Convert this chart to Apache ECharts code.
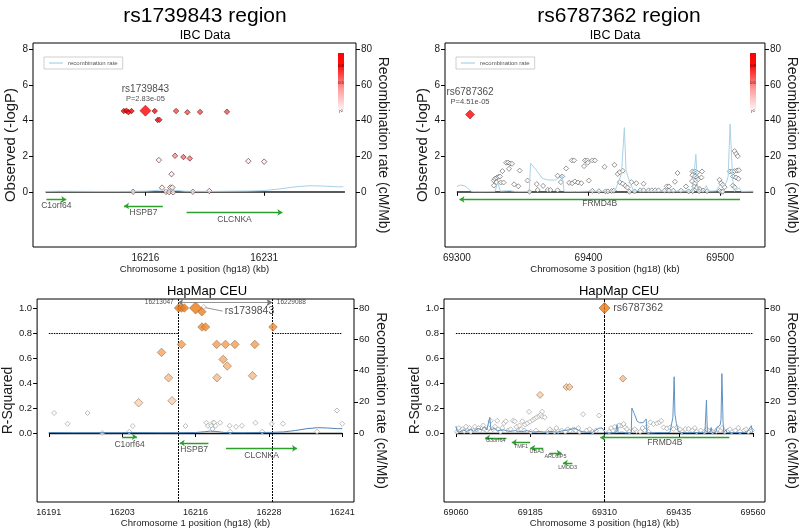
<!DOCTYPE html>
<html><head><meta charset="utf-8">
<script src="https://cdn.jsdelivr.net/npm/echarts@6/dist/echarts.min.js"></script>
<style>html,body{margin:0;padding:0;background:#fff}#c{width:800px;height:531px}</style>
</head><body><div id="c"></div>
<script>
const FONT = '"Liberation Sans", Arial, Helvetica, sans-serif';

// ---------------- DATA ----------------
const panelTitles = ['rs1739843 region', 'rs6787362 region'];
const subTitles = ['IBC Data', 'HapMap CEU'];
const xNames = ['Chromosome 1 position (hg18) (kb)', 'Chromosome 3 position (hg18) (kb)'];

const chr1IbcRange = [16203.4, 16241.2];
const chr3IbcRange = [69300, 69525];
const chr1HapRange = [16191, 16241];
const chr3HapRange = [69060, 69560];

const chr1IbcTicks = [16216, 16231];
const chr3IbcTicks = [69300, 69400, 69500];
const chr1HapTicks = [16191, 16203.5, 16216, 16228.5, 16241];
const chr3HapTicks = [69060, 69185, 69310, 69435, 69560];
const logPTicks = [0, 2, 4, 6, 8];
const r2Ticks = [0, 0.2, 0.4, 0.6, 0.8, 1.0];
const recTicks = [0, 20, 40, 60, 80];
const r2Threshold = 0.8;

const chr1Lead = { name: 'rs1739843', pos: 16216.0, logP: 4.55, p: '2.83e-05' };
const chr3Lead = { name: 'rs6787362', pos: 69310.0, logP: 4.34, p: '4.51e-05' };
const chr1LdBoundsBp = [16213047, 16229088];

// IBC chr1: [kb, -logP, r2 with lead]
const chr1IbcSnps = [
  [16213.27,4.53,1.0],[16213.6,4.55,1.0],[16213.86,4.47,0.97],[16214.24,4.53,1.0],
  [16217.18,4.53,0.97],[16217.55,4.03,0.85],[16217.76,4.04,0.85],
  [16219.87,4.53,0.71],[16221.3,4.46,0.71],[16222.9,4.48,0.71],[16226.3,4.49,0.71],
  [16219.74,2.02,0.44],[16220.8,1.95,0.59],[16221.6,1.87,0.54],
  [16217.7,1.78,0.06],[16219.3,0.99,0.08],[16229.0,1.72,0.07],[16231.0,1.69,0.07],
  [16218.1,0.23,0.05],[16219.15,0.24,0.06],[16219.4,0.24,0.03],
  [16214.45,0.0,0.06],[16218.6,0.0,0.03],[16219.0,-0.02,0.08],[16219.5,-0.03,0.06],[16222.0,0.0,0.05],[16224.07,0.04,0.06]
];

// IBC chr3: [kb, -logP]
const chr3IbcSnps = [
  [69328.1,0.63],[69329,0.73],[69330.3,0.79],[69331.6,0.84],[69332.8,0.86],[69328.1,0.35],[69330,0.54],[69333.3,0.52],
  [69335.5,0.52],[69334.6,1.16],[69337.4,1.63],[69338.9,1.64],[69340.4,1.59],[69341.9,1.57],[69339.6,1.29],[69347.7,1.19],
  [69346.7,0.31],[69353.7,0.63],[69355.2,0.0],[69360.7,0.43],[69361.4,0.1],[69369,0.1],[69371,0.1],[69376.5,0.08],
  [69376.5,0.9],[69380,0.86],[69379,0.54],[69383,1.31],[69385.3,0.5],[69387.6,0.48],[69389.6,0.58],[69387.3,1.76],
  [69389.1,1.76],[69397.4,1.76],[69399.1,1.76],[69402.9,1.76],[69404.9,1.76],[69396.6,1.44],[69399.4,1.63],[69400.2,0.63],
  [69402.9,0.05],[69407.9,0.03],[69412.9,0.02],[69414.7,0.02],[69417.5,0.04],[69419.2,0.06],[69412.2,1.4],[69419.7,1.51],
  [69422.2,1.0],[69423.7,1.1],[69426,1.18],[69423.7,0.54],[69426,0.45],[69428,0.34],[69429.5,0.24],[69432.5,0.54],
  [69436.3,0.48],[69441.8,0.45],[69439.3,0.08],[69441.8,0.08],[69445.6,0.08],[69448,0.08],[69450.6,0.08],[69453.1,0.08],
  [69459.4,0.3],[69461.1,0.3],[69457.7,0.06],[69461.1,0.06],[69464.4,0.06],[69470.2,0.06],[69467.6,1.05],[69465.6,0.56],
  [69478.9,1.14],[69480.7,1.14],[69482.5,1.08],[69486.2,1.14],[69478.9,0.93],[69480.7,0.86],[69482.5,0.8],[69478.6,0.6],
  [69480.7,0.45],[69483.2,0.7],[69485.7,0.8],[69480.3,0.3],[69482.3,0.22],[69484.5,0.15],[69487,0.07],[69479,0.03],
  [69484,0.03],[69490,0.03],[69499.5,0.67],[69500.7,0.48],[69502,0.39],[69503.3,0.26],[69499.5,0.05],[69500.7,0.0],
  [69502,0.0],[69507.3,1.14],[69509.1,1.14],[69510.9,1.16],[69512.7,1.19],[69514.2,1.21],[69510.9,2.28],[69512.1,2.13],
  [69513.3,2.0],[69509.8,0.86],[69512.1,0.8],[69513.8,0.73],[69509.6,0.35],[69511,0.25],
  [69343.5,0.42],[69365.5,0.33],[69392,0.52],[69394.5,0.48],[69431,0.0],[69435,0.02],[69474,0.3],[69476,0.02]
];

// HapMap chr1: [kb, r2]
const chr1HapLdSnps = [
  [16213.1,1.0],[16213.6,1.0],[16214.1,1.0],[16217.07,0.97],[16217.1,0.848],[16217.7,0.848],[16229.2,0.848],
  [16213.6,0.709],[16219.6,0.709],[16221.1,0.709],[16222.7,0.709],[16226.1,0.709],[16210.2,0.645],[16220.7,0.589],
  [16221.4,0.536],[16211.4,0.442],[16219.65,0.442],[16225.7,0.458],[16206.3,0.242],[16212.0,0.258]
];
const chr1HapOtherSnps = [
  [16191.9,0.16],[16194.2,0.074],[16197.6,0.16],[16200.1,0.0],[16204.7,0.01],[16205.3,0.056],[16214.3,0.056],[16217.4,1.008],
  [16217.85,0.082],[16218.1,0.058],[16218.7,0.058],[16219.0,0.082],[16219.2,0.082],[16219.4,0.058],[16220.2,0.082],[16218.9,0.032],
  [16221.8,0.058],[16222.9,0.05],[16223.9,0.058],[16226.2,0.082],[16221.9,0.01],[16227.35,0.01],[16229.0,0.074],[16230.9,0.074],
  [16236.7,0.01],[16240.1,0.18],[16241.0,0.074]
];

// HapMap chr3: [kb, r2]
const chr3HapLdSnps = [[69201.6,0.305],[69245.9,0.368],[69251,0.368],[69341,0.435]];
const chr3HapOtherSnps = [
  [69183,0.17],[69205,0.17],[69274,0.15],[69301,0.14],
  [69176.3,0.067],[69180.2,0.078],[69184.7,0.09],[69189.3,0.104],[69192.6,0.115],[69196,0.126],[69199.9,0.136],[69202.7,0.146],
  [69205.4,0.13],[69209.5,0.126],[69140.9,0.078],[69143.8,0.094],[69156,0.098],[69159,0.094],[69171.8,0.094],[69118.5,0.098],[69129.6,0.098],
  [69337.5,0.058],[69342,0.072],[69344.8,0.045],[69347.7,0.032],[69387,0.086],[69392.5,0.072],[69398.2,0.078],[69402.6,0.086],
  [69405.5,0.098],[69409.4,0.045],[69415,0.037],[69420.6,0.045],[69426.2,0.032],[69431.9,0.045],[69445.9,0.032],[69451.5,0.032],
  [69062,0.01],[69068,0.02],[69074,0.015],[69080,0.02],[69085,0.01],[69090,0.02],[69095,0.03],[69100,0.02],[69104,0.04],
  [69108,0.03],[69112,0.02],[69115,0.04],[69122,0.03],[69135,0.01],[69148,0.02],[69152,0.03],[69165,0.02],[69170,0.03],
  [69175,0.02],[69186,0.01],[69195,0.02],[69214,0.01],[69220,0.02],[69226,0.01],[69232,0.015],[69238,0.02],[69244,0.01],
  [69252,0.02],[69258,0.03],[69262,0.02],[69268,0.01],[69280,0.02],[69290,0.01],[69296,0.02],[69318,0.01],[69324,0.02],
  [69330,0.03],[69352,0.01],[69358,0.02],[69364,0.015],[69370,0.01],[69378,0.02],[69384,0.01],[69440,0.01],[69458,0.02],
  [69465,0.01],[69472,0.02],[69478,0.01],[69485,0.02],[69492,0.01],[69498,0.015],[69505,0.02],[69512,0.01],[69518,0.02],
  [69524,0.01],[69530,0.02],[69538,0.01],[69545,0.02],[69552,0.01],[69558,0.02],
  [69065,0.04],[69071,0.03],[69077,0.05],[69083,0.04],[69092,0.05],[69098,0.04],[69106,0.06],[69126,0.05],[69131,0.03],
  [69138,0.04],[69162,0.05],[69167,0.06],[69218,0.03],[69229,0.04],[69248,0.03],[69266,0.04],[69285,0.03],[69321,0.04],
  [69327,0.05],[69334,0.06],[69361,0.03],[69374,0.04],[69381,0.05],[69437,0.03],[69462,0.04],[69482,0.03],[69500,0.03],
  [69508,0.04],[69521,0.03],[69535,0.04],[69548,0.03]
];

// Recombination rate (cM/Mb): [kb, rate]
const chr1Recomb = [
  [16191,0.3],[16195,0.2],[16200,0.2],[16203.4,0.2],[16205,0.3],[16210,0.2],[16213,0.2],[16216,0.3],[16217.5,0.8],
  [16218.5,1.2],[16219.5,1.0],[16221,0.3],[16224,0.2],[16229,0.4],[16231,0.7],[16233,1.6],[16235,2.8],[16236.8,3.4],
  [16238.5,3.2],[16240.2,2.8],[16241,2.8]
];
const chr3Recomb = [
  [69060,4.5],[69062,1],[69066,0.5],[69072,2],[69078,1],[69085,2.5],[69090,1],[69097,3],[69103,2],[69108,4],[69112,2],
  [69117,10],[69119,2],[69125,3],[69130,1.5],[69140,2],[69150,1],[69160,1.5],[69170,0.8],[69180,1.5],[69190,0.5],[69200,1],
  [69210,0.5],[69220,1],[69230,0.5],[69240,1.5],[69250,2],[69260,3],[69270,1],[69280,0.5],[69290,0.5],[69300,3.0],
  [69303,3.8],[69306,3.3],[69309,1.5],[69311,0.2],[69316,0.1],[69329,0.2],[69331,5.3],[69333,0.3],[69340,0.6],[69345,0.1],
  [69355,0.2],[69356,16],[69360,12.5],[69365,7.5],[69369,6.6],[69375,6.6],[69380,9],[69381.5,0.2],[69390,0.1],[69400,0.3],
  [69410,0.2],[69420,0.3],[69425,10],[69427.2,36],[69428.5,12],[69431,6],[69434,1],[69440,0.3],[69450,0.2],[69460,0.3],
  [69470,0.3],[69479,0.5],[69481.5,21],[69483,0.5],[69487,0.3],[69489.5,3.5],[69491,0.3],[69497,0.5],[69499.5,3.7],
  [69502,3],[69504.5,5],[69506,8.5],[69507.5,38],[69509.5,6.5],[69510.7,0.2],[69514.5,2.2],[69516,0.2],[69525,0.3],
  [69540,0.3],[69550,0.5],[69557,4.7],[69559,0.5],[69560,0.3]
];

// Genes: name, start, end (kb), strand
const chr1Genes = [
  { name: 'C1orf64', start: 16203.5, end: 16206.0, strand: '+' },
  { name: 'HSPB7', start: 16213.3, end: 16218.2, strand: '-' },
  { name: 'CLCNKA', start: 16221.2, end: 16233.3, strand: '+' }
];
const chr3IbcGenes = [{ name: 'FRMD4B', start: 69302, end: 69515, strand: '-' }];
const chr3HapGenes = [
  { name: 'C3orf64', start: 69109, end: 69145, strand: '-' },
  { name: 'TMF1', start: 69154, end: 69185, strand: '-' },
  { name: 'UBA3', start: 69185, end: 69207, strand: '-' },
  { name: 'ARL6IP5', start: 69217, end: 69238, strand: '+' },
  { name: 'LMOD3', start: 69240, end: 69256, strand: '-' },
  { name: 'FRMD4B', start: 69303, end: 69520, strand: '-' }
];

// ---------------- LAYOUT ----------------
const geneRowsTL = [[-0.43, -0.8], [-0.8, -1.2], [-1.16, -1.54]];
const geneRowsTR = [[-0.43, -0.68]];
const geneRowsBL = [[-0.03, -0.09], [-0.08, -0.134], [-0.123, -0.185]];
const geneRowsBR = [[-0.04, -0.062], [-0.075, -0.107], [-0.12, -0.144], [-0.16, -0.187], [-0.24, -0.272], [-0.037, -0.08]];
const geneFontBR = [5.5, 5.5, 5.5, 5.5, 5.5, 8.5];
const topY = [-3.1, 8.35], botY = [-0.552, 1.072];
const recTop = [topY[0] * 10, topY[1] * 10], recBot = [botY[0] * 80, botY[1] * 80];

// ---------------- BUILD ----------------
const grids = [
  { left: 33, top: 43, width: 323, height: 204 },
  { left: 445, top: 43, width: 322, height: 204 },
  { left: 33, top: 299, width: 321, height: 203 },
  { left: 444, top: 299, width: 322, height: 203 }
].map(g => Object.assign(g, { show: true, borderColor: '#000', borderWidth: 1, backgroundColor: 'transparent' }));

const txt = (fs, extra) => Object.assign({ fontSize: fs, color: '#1a1a1a', fontFamily: FONT }, extra || {});

function xAx(gi, min, max, ticks, name, fmt, fs) {
  return {
    type: 'value', gridIndex: gi, min, max, position: 'bottom',
    axisLine: { show: false }, splitLine: { show: false },
    axisTick: { show: true, length: 4, customValues: ticks, lineStyle: { color: '#000' } },
    axisLabel: { customValues: ticks, formatter: fmt, margin: 6, ...txt(fs) },
    name, nameLocation: 'middle', nameGap: 15, nameTextStyle: txt(9.5)
  };
}
function yAx(gi, min, max, ticks, name, fmt, pos, fs, nfs, gap) {
  return {
    type: 'value', gridIndex: gi, min, max, position: pos,
    axisLine: { show: false }, splitLine: { show: false },
    axisTick: { show: true, length: 4, customValues: ticks, lineStyle: { color: '#000' } },
    axisLabel: { customValues: ticks, formatter: fmt, margin: 5, ...txt(fs) },
    name, nameLocation: 'middle', nameGap: gap, nameRotate: pos === 'left' ? 90 : -90,
    nameTextStyle: txt(nfs)
  };
}

const kbFmt = v => String(Math.floor(v));
const xAxes = [
  xAx(0, 16201.8, 16242.6, chr1IbcTicks, xNames[0], kbFmt, 10),
  xAx(1, 69291, 69534, chr3IbcTicks, xNames[1], kbFmt, 10),
  xAx(2, 16189, 16243, chr1HapTicks, xNames[0], kbFmt, 9),
  xAx(3, 69040, 69580, chr3HapTicks, xNames[1], kbFmt, 9)
];
const yAxes = [];
[0, 1].forEach(gi => {
  yAxes.push(yAx(gi, topY[0], topY[1], logPTicks, 'Observed (-logP)', v => String(v), 'left', 10, 15, 14));
  yAxes.push(yAx(gi, recTop[0], recTop[1], recTicks, 'Recombination rate (cM/Mb)', v => String(v), 'right', 10, 14, 20));
});
[2, 3].forEach(gi => {
  yAxes.push(yAx(gi, botY[0], botY[1], r2Ticks, 'R-Squared', v => v.toFixed(1), 'left', 9.5, 14, 15));
  yAxes.push(yAx(gi, recBot[0], recBot[1], recTicks, 'Recombination rate (cM/Mb)', v => String(v), 'right', 9.5, 14, 20));
});

const series = [];
function add(s) { series.push(Object.assign({ animation: false, silent: true }, s)); return series.length - 1; }
function seg(gi, coordsList, style, symbol, symbolSize) {
  add({ type: 'lines', coordinateSystem: 'cartesian2d', xAxisIndex: gi, yAxisIndex: gi * 2,
    symbol: symbol || 'none', symbolSize: symbolSize || 0, lineStyle: Object.assign({ opacity: 1 }, style),
    data: coordsList.map(c => ({ coords: c })) });
}
function genes(gi, list, rows, fonts) {
  list.forEach((g, i) => {
    const y = rows[i][0];
    const c = g.strand === '+' ? [[g.start, y], [g.end, y]] : [[g.end, y], [g.start, y]];
    seg(gi, [c], { color: '#2ca02c', width: 1.3 }, ['none', 'arrow'], 5);
  });
  add({ type: 'scatter', xAxisIndex: gi, yAxisIndex: gi * 2, symbolSize: 1, itemStyle: { color: 'rgba(0,0,0,0)' },
    data: list.map((g, i) => ({ value: [(g.start + g.end) / 2, rows[i][1]], name: g.name,
      label: { fontSize: Array.isArray(fonts) ? fonts[i] : fonts } })),
    label: { show: true, position: 'inside', formatter: '{b}', ...txt(8.5) } });
}
function recomb(gi, data, range, color, name) {
  add({ type: 'line', name, xAxisIndex: gi, yAxisIndex: gi * 2 + 1, symbol: 'none', showSymbol: false,
    lineStyle: { color, width: 1 }, itemStyle: { color },
    data: data.filter(d => d[0] >= range[0] && d[0] <= range[1]) });
}
const leadLabel = (lead) => ({ show: true, position: 'top', distance: 1, align: 'center',
  formatter: `{a|${lead.name}}\n{b|P=${lead.p}}`,
  rich: { a: txt(10, { lineHeight: 11 }), b: txt(7.5, { lineHeight: 9 }) } });

// --- Panel 0: IBC chr1
recomb(0, chr1Recomb, chr1IbcRange, '#a9d2e5', 'recombination rate');
seg(0, [[[chr1IbcRange[0], 0], [chr1IbcRange[1], 0]]], { color: '#222', width: 1.5 });
genes(0, chr1Genes, geneRowsTL, 8.5);
const sTL = add({ type: 'scatter', xAxisIndex: 0, yAxisIndex: 0, symbol: 'diamond', symbolSize: 5.5,
  itemStyle: { borderColor: '#3a1010', borderWidth: 0.7 }, data: chr1IbcSnps });
add({ type: 'scatter', xAxisIndex: 0, yAxisIndex: 0, symbol: 'diamond', symbolSize: 11,
  itemStyle: { color: '#ff0000', borderColor: '#8a0000', borderWidth: 0.6 },
  data: [[chr1Lead.pos, chr1Lead.logP]], label: leadLabel(chr1Lead) });

// --- Panel 1: IBC chr3
recomb(1, chr3Recomb, chr3IbcRange, '#a9d2e5', 'recombination rate');
seg(1, [[[chr3IbcRange[0], 0], [chr3IbcRange[1], 0]]], { color: '#222', width: 1.5 });
genes(1, chr3IbcGenes, geneRowsTR, 8.5);
add({ type: 'scatter', xAxisIndex: 1, yAxisIndex: 2, symbol: 'diamond', symbolSize: 5,
  itemStyle: { color: '#fff', borderColor: '#444', borderWidth: 0.7 }, data: chr3IbcSnps });
add({ type: 'scatter', xAxisIndex: 1, yAxisIndex: 2, symbol: 'diamond', symbolSize: 9,
  itemStyle: { color: '#ff0000', borderColor: '#8a0000', borderWidth: 0.6 },
  data: [[chr3Lead.pos, chr3Lead.logP]], label: Object.assign(leadLabel(chr3Lead), { distance: 3 }) });

// --- Panel 2: HapMap chr1
const ldKb = chr1LdBoundsBp.map(b => b / 1000);
const arrowY = 1.045;
recomb(2, chr1Recomb, chr1HapRange, '#4f83b5', 'rate-hap1');
seg(2, [[[chr1HapRange[0], 0], [chr1HapRange[1], 0]]], { color: '#111', width: 1.3 });
seg(2, [[[chr1HapRange[0], r2Threshold], [ldKb[0], r2Threshold]], [[ldKb[1], r2Threshold], [chr1HapRange[1], r2Threshold]]],
  { color: '#000', width: 1.2, type: [1.5, 1] });
seg(2, ldKb.map(k => [[k, botY[0]], [k, botY[1]]]), { color: '#000', width: 1, type: [2, 1] });
seg(2, [[[ldKb[0], arrowY], [ldKb[1], arrowY]]], { color: '#777', width: 0.8 }, ['arrow', 'arrow'], [5, 6]);
add({ type: 'scatter', xAxisIndex: 2, yAxisIndex: 4, symbolSize: 1, itemStyle: { color: 'rgba(0,0,0,0)' },
  data: [
    { value: [ldKb[0], arrowY], name: String(chr1LdBoundsBp[0]), label: { position: 'left', distance: 4 } },
    { value: [ldKb[1], arrowY], name: String(chr1LdBoundsBp[1]), label: { position: 'right', distance: 4 } }
  ],
  label: { show: true, formatter: '{b}', ...txt(6.5) } });
genes(2, chr1Genes, geneRowsBL, 8.5);
add({ type: 'scatter', xAxisIndex: 2, yAxisIndex: 4, symbol: 'diamond', symbolSize: 5,
  itemStyle: { color: '#fff', borderColor: '#999', borderWidth: 0.8 }, data: chr1HapOtherSnps });
seg(2, [[[chr1Lead.pos + 1.5, 1.005], [chr1Lead.pos + 4.6, 0.975]]], { color: '#777', width: 0.8 });
add({ type: 'scatter', xAxisIndex: 2, yAxisIndex: 4, symbolSize: 1, itemStyle: { color: 'rgba(0,0,0,0)' },
  data: [{ value: [chr1Lead.pos + 4.7, 0.975], name: chr1Lead.name }],
  label: { show: true, position: 'right', distance: 1, formatter: '{b}', ...txt(10.5) } });
const sBL = add({ type: 'scatter', xAxisIndex: 2, yAxisIndex: 4, symbol: 'diamond', symbolSize: 8.5,
  itemStyle: { borderColor: '#8a6a50', borderWidth: 0.7 }, data: chr1HapLdSnps });
add({ type: 'scatter', xAxisIndex: 2, yAxisIndex: 4, symbol: 'diamond', symbolSize: 12,
  itemStyle: { color: '#f07a10', borderColor: '#8a5a30', borderWidth: 0.7 }, data: [[chr1Lead.pos, 1.0]] });

// --- Panel 3: HapMap chr3
recomb(3, chr3Recomb, chr3HapRange, '#5f93c3', 'rate-hap3');
seg(3, [[[chr3HapRange[0], 0], [chr3HapRange[1], 0]]], { color: '#111', width: 1.3 });
seg(3, [[[chr3HapRange[0], r2Threshold], [chr3HapRange[1], r2Threshold]]], { color: '#000', width: 1.2, type: [1.5, 1] });
seg(3, [[[chr3Lead.pos, botY[0]], [chr3Lead.pos, botY[1]]]], { color: '#000', width: 1, type: [3, 1] });
genes(3, chr3HapGenes, geneRowsBR, geneFontBR);
add({ type: 'scatter', xAxisIndex: 3, yAxisIndex: 6, symbol: 'diamond', symbolSize: 5,
  itemStyle: { color: '#fff', borderColor: '#999', borderWidth: 0.8 }, data: chr3HapOtherSnps });
const sBR = add({ type: 'scatter', xAxisIndex: 3, yAxisIndex: 6, symbol: 'diamond', symbolSize: 7,
  itemStyle: { borderColor: '#8a6a50', borderWidth: 0.7 }, data: chr3HapLdSnps });
add({ type: 'scatter', xAxisIndex: 3, yAxisIndex: 6, symbol: 'diamond', symbolSize: 11,
  itemStyle: { color: '#f07a10', borderColor: '#8a5a30', borderWidth: 0.7 }, data: [[chr3Lead.pos, 1.0]],
  label: { show: true, position: 'right', distance: 3, formatter: chr3Lead.name, ...txt(10.5) } });

// ---------------- COLOR BARS (legend decoration) ----------------
function colorBar(x) {
  return {
    type: 'group', silent: true, children: [
      { type: 'rect', shape: { x, y: 53, width: 6, height: 60 },
        style: { fill: new echarts.graphic.LinearGradient(0, 0, 0, 1, [
          { offset: 0, color: '#ff0000' }, { offset: 0.22, color: '#ff1010' },
          { offset: 0.6, color: '#ff9c9c' }, { offset: 1, color: '#ffffff' }]) } },
      { type: 'text', style: { x: x + 3, y: 66, text: '0.8', fontSize: 4, fill: '#300', align: 'center', verticalAlign: 'middle', fontFamily: FONT } },
      { type: 'text', style: { x: x + 3, y: 83, text: '0.5', fontSize: 4, fill: '#300', align: 'center', verticalAlign: 'middle', fontFamily: FONT } },
      { type: 'text', style: { x: x + 3, y: 112, text: 'r²', fontSize: 5, fill: '#333', align: 'center', verticalAlign: 'middle', fontFamily: FONT } }
    ]
  };
}

const legendStyle = { data: ['recombination rate'], top: 57, orient: 'horizontal', icon: 'rect',
  itemWidth: 14, itemHeight: 1.2, itemGap: 0,
  padding: [3, 5], borderColor: '#b0b0b0', borderWidth: 0.6, selectedMode: false,
  textStyle: txt(6, { color: '#555' }) };

const chart = echarts.init(document.getElementById('c'), null, { renderer: 'canvas' });
chart.setOption({
  animation: false,
  backgroundColor: '#fff',
  title: [
    { text: panelTitles[0], left: 200, top: 1, textAlign: 'center', textStyle: txt(21, { fontWeight: 'normal', color: '#000' }) },
    { text: subTitles[0], left: 200, top: 24, textAlign: 'center', textStyle: txt(12.5, { fontWeight: 'normal', color: '#000' }) },
    { text: subTitles[1], left: 202, top: 280, textAlign: 'center', textStyle: txt(13, { fontWeight: 'normal', color: '#000' }) },
    { text: panelTitles[1], left: 614, top: 1, textAlign: 'center', textStyle: txt(21, { fontWeight: 'normal', color: '#000' }) },
    { text: subTitles[0], left: 610, top: 24, textAlign: 'center', textStyle: txt(12.5, { fontWeight: 'normal', color: '#000' }) },
    { text: subTitles[1], left: 614, top: 280, textAlign: 'center', textStyle: txt(13, { fontWeight: 'normal', color: '#000' }) }
  ],
  legend: [Object.assign({ left: 44 }, legendStyle), Object.assign({ left: 456 }, legendStyle)],
  grid: grids,
  xAxis: xAxes,
  yAxis: yAxes,
  visualMap: [
    { type: 'continuous', show: false, seriesIndex: [sTL], dimension: 2, min: 0, max: 1, inRange: { color: ['#ffffff', '#ff0000'] } },
    { type: 'continuous', show: false, seriesIndex: [sBL, sBR], dimension: 1, min: 0.2, max: 1, inRange: { color: ['#f9d8bc', '#f07a10'] } }
  ],
  graphic: [colorBar(338), colorBar(750)],
  series
});
</script>
</body></html>
